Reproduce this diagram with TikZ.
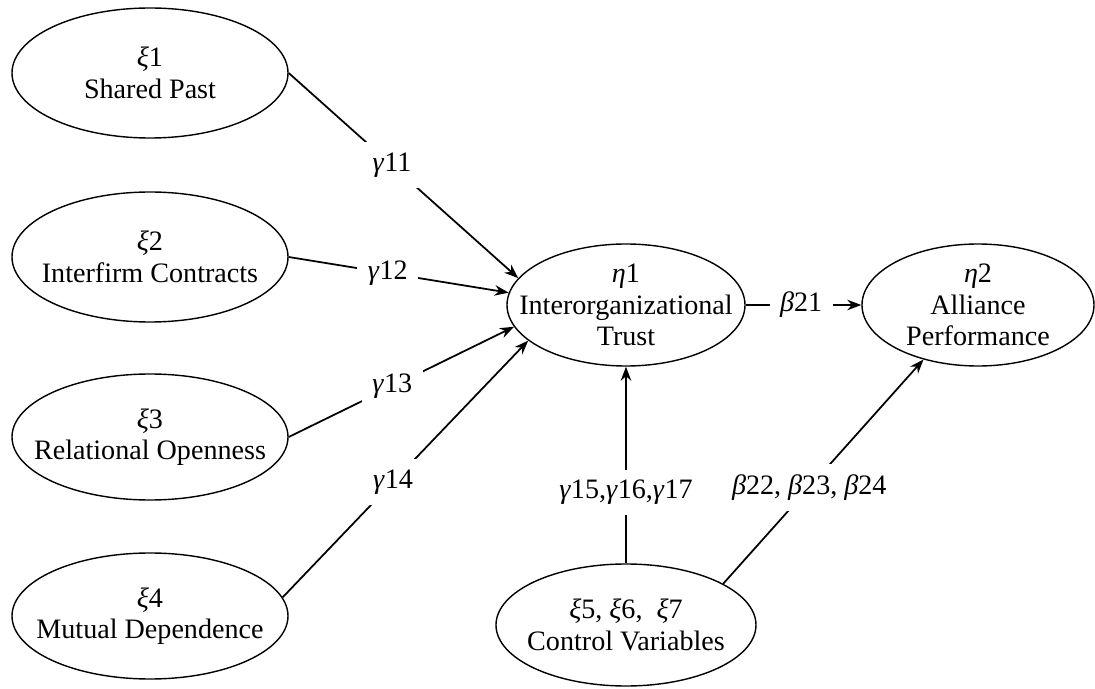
\documentclass[tikz,border=0pt]{standalone}
\usepackage{fontspec}
\setmainfont{Liberation Serif}
\usetikzlibrary{shapes.geometric, arrows, arrows.meta}
\tikzstyle{latent} = [ellipse, draw=black, line width=0.8pt, inner sep=-1.5cm, align=center, minimum width=5.52cm, minimum height=2.6cm, font=\fontsize{16}{18}\selectfont]
\tikzstyle{arrow} = [line width=1pt,->,>={Stealth[length=8pt,width=6pt]}]
\tikzstyle{coef} = [fill=white, inner sep=6pt, font=\fontsize{16}{18}\selectfont]
\newcommand{\gm}{\textit{γ}}
\newcommand{\bt}{\textit{β}}
\newcommand{\xv}{\textit{ξ}}

\begin{document}
\begin{tikzpicture}
\useasboundingbox (0,0) rectangle (21.9,13.76);
\node (past) at (3.0,12.3) [latent] {\xv1\\Shared Past};
\node (contracts) at (3.0,8.62) [latent] {\xv2\\Interfirm Contracts};
\node (openness) at (3.0,5.02) [latent, minimum height=2.52cm] {\xv3\\Relational Openness};
\node (dependence) at (3.0,1.44) [latent, minimum height=2.52cm] {\xv4\\Mutual Dependence};
\node (trust) at (12.52,7.66) [latent, minimum width=4.76cm, minimum height=2.44cm] {\textit{η}1\\Interorganizational\\Trust};
\node (alliance) at (19.56,7.66) [latent, minimum width=4.64cm, minimum height=2.44cm] {\textit{η}2\\Alliance\\Performance};
\node (control) at (12.52,1.26) [latent, minimum width=5.2cm, minimum height=2.44cm] {\xv5, \xv6, \ \xv7\\Control Variables};
\draw [arrow] (past.east) -- node[coef, pos=0.45] {\gm11} (trust.166);
\draw [arrow] (contracts.east) -- node[coef, pos=0.45] {\gm12} (trust.174);
\draw [arrow] (openness.east) -- node[coef, pos=0.46] {\gm13} (trust.191);
\draw [arrow] (dependence.8) -- node[coef, pos=0.45] {\gm14} (trust.200);
\draw [arrow] (control.north) -- node[coef, pos=0.36] {\gm15,\gm16,\gm17} (trust.south);
\draw [arrow] (control.23) -- node[coef, pos=0.43] {\bt22, \bt23, \bt24} (alliance.225);
\draw [arrow] (trust.east) -- node[coef, pos=0.48] {\bt21} (alliance.west);
\end{tikzpicture}
\end{document}
